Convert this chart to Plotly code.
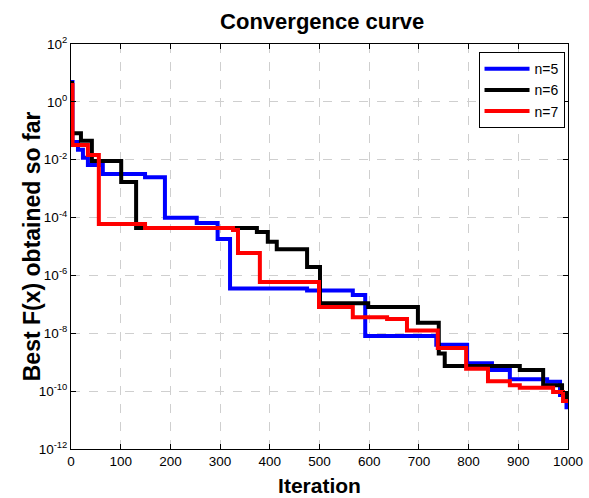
import plotly.graph_objects as go

# Step-change iterations and best values for each run
iter_n5 = [0, 3, 14, 24, 34, 64, 149, 189, 253, 295, 320, 475, 567, 592, 735, 797, 847, 883, 958, 984, 997, 1000]
best_n5 = [4.9, 0.041, 0.022, 0.0117, 0.0066, 0.0032, 0.0025, 9.8e-5, 6.5e-5, 1.8e-5, 3.5e-7, 3.0e-7, 2.1e-7,
           8.1e-9, 4.0e-9, 9.3e-10, 5.4e-10, 2.6e-10, 2.1e-10, 7.4e-11, 2.8e-11, 2.8e-11]

iter_n6 = [0, 2, 20, 42, 101, 131, 374, 396, 414, 475, 501, 598, 698, 740, 752, 903, 950, 988, 996, 1000]
best_n6 = [4.5, 0.083, 0.045, 0.0091, 0.0017, 4.4e-5, 3.2e-5, 1.45e-5, 8.1e-6, 1.95e-6, 1.1e-7, 8.1e-8,
           2.3e-8, 2.0e-9, 7.4e-10, 5.4e-10, 1.6e-10, 8.7e-11, 5.4e-11, 5.4e-11]

iter_n7 = [0, 3, 34, 56, 149, 326, 336, 380, 499, 567, 636, 676, 738, 795, 839, 883, 903, 970, 990, 1000]
best_n7 = [3.8, 0.032, 0.0145, 6.0e-5, 4.4e-5, 3.7e-5, 6.0e-6, 5.9e-7, 8.1e-8, 3.6e-8, 3.1e-8, 1.26e-8,
           3.1e-9, 5.9e-10, 2.2e-10, 1.6e-10, 1.3e-10, 9.3e-11, 4.6e-11, 4.6e-11]

y_tick_vals = [1e-12, 1e-10, 1e-8, 1e-6, 1e-4, 1e-2, 1e0, 1e2]
y_tick_text = ["10<sup>-12</sup>", "10<sup>-10</sup>", "10<sup>-8</sup>", "10<sup>-6</sup>",
               "10<sup>-4</sup>", "10<sup>-2</sup>", "10<sup>0</sup>", "10<sup>2</sup>"]

series = [
    ("n=5", iter_n5, best_n5, "#0000ff"),
    ("n=6", iter_n6, best_n6, "#000000"),
    ("n=7", iter_n7, best_n7, "#ff0000"),
]

fig = go.Figure()
for name, xs, ys, col in series:
    fig.add_trace(go.Scatter(x=xs, y=ys, mode="lines", name=name,
                             line=dict(color=col, width=4, shape="hv")))

font_family = "Liberation Sans, Arial, sans-serif"

fig.update_layout(
    width=589, height=498,
    margin=dict(l=71, r=21, t=44, b=49),
    paper_bgcolor="white", plot_bgcolor="white",
    font=dict(family=font_family, color="black", size=13),
    title=dict(text="<b>Convergence curve</b>", x=0.547, xanchor="center",
               y=0.958, yanchor="middle", font=dict(size=22, color="black")),
    showlegend=True,
    legend=dict(x=0.993, y=0.98, xanchor="right", yanchor="top",
                bgcolor="white", bordercolor="black", borderwidth=1,
                itemwidth=45, font=dict(size=14)),
    annotations=[dict(text="<b>Best F(x) obtained so far</b>", textangle=-90,
                      xref="paper", yref="paper", x=-0.079, y=0.5,
                      xanchor="center", yanchor="middle", showarrow=False,
                      font=dict(size=23, color="black"))],
)

fig.update_xaxes(
    range=[0, 1000], dtick=100, tick0=0, automargin=False,
    showline=True, linecolor="black", linewidth=1, mirror="ticks",
    ticks="inside", ticklen=5, tickcolor="black",
    showgrid=True, gridcolor="#cfcfcf", griddash="dash", gridwidth=1,
    zeroline=False,
    tickfont=dict(size=13.5),
    title=dict(text="<b>Iteration</b>", font=dict(size=21), standoff=10),
)
fig.update_yaxes(
    type="log", range=[-12, 2], automargin=False,
    tickmode="array", tickvals=y_tick_vals, ticktext=y_tick_text,
    showline=True, linecolor="black", linewidth=1, mirror="ticks",
    ticks="inside", ticklen=5, tickcolor="black",
    showgrid=True, gridcolor="#cfcfcf", griddash="dash", gridwidth=1,
    zeroline=False,
    tickfont=dict(size=13.5),
)

fig.write_html("out.html")
